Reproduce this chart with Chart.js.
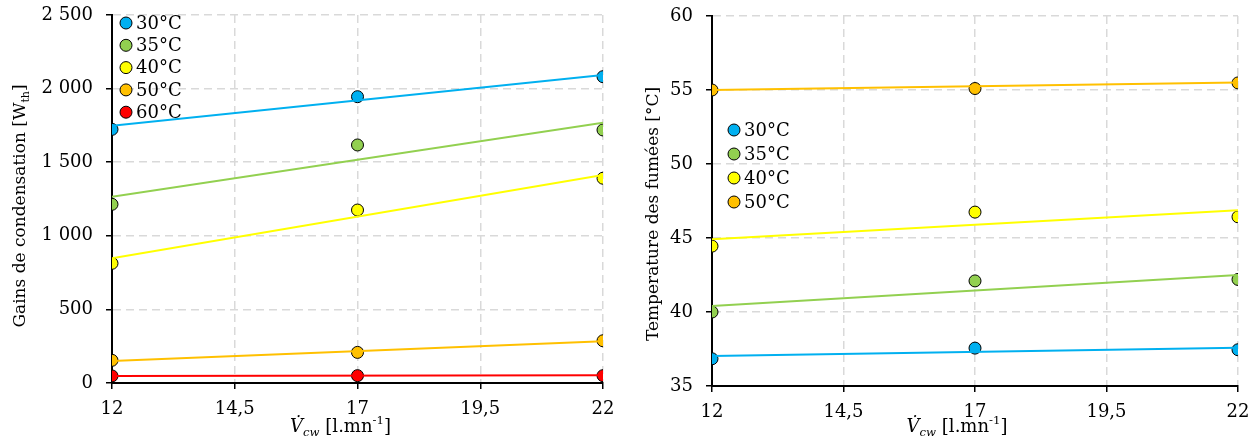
<!doctype html>
<html lang="fr">
<head>
<meta charset="utf-8">
<title>Gains de condensation / Temperature des fumées</title>
<script src="https://cdn.jsdelivr.net/npm/chart.js@4.4.0/dist/chart.umd.min.js"></script>
<style>
  body { margin: 0; background: #fff; }
  canvas { position: absolute; top: 0; }
  #left { left: 0; }
  #right { left: 630px; }
</style>
</head>
<body>
<canvas id="left" width="630" height="441"></canvas>
<canvas id="right" width="629" height="441"></canvas>

<script>
// debit d'eau froide [l/mn]
var debits = [12, 17, 22];
var trendX = [12, 22];

var labelsT = ['30°C', '35°C', '40°C', '50°C', '60°C'];
var couleurs = ['#00b0f0', '#92d050', '#ffff00', '#ffc000', '#ff0000'];

// gains de condensation [Wth]
var gains30 = [1723, 1945, 2081];
var gains35 = [1214, 1617, 1719];
var gains40 = [813, 1175, 1391];
var gains50 = [154, 208, 287];
var gains60 = [48, 50, 50];
// courbes de tendance (x = 12 et 22)
var gTrend30 = [1748, 2092];
var gTrend35 = [1266, 1768];
var gTrend40 = [847, 1413];
var gTrend50 = [150, 283];
var gTrend60 = [47, 53];

// temperature des fumees [°C]
var temp30 = [36.84, 37.56, 37.45];
var temp35 = [40.0, 42.1, 42.2];
var temp40 = [44.45, 46.75, 46.43];
var temp50 = [55.0, 55.1, 55.48];
var tTrend30 = [37.02, 37.58];
var tTrend35 = [40.4, 42.5];
var tTrend40 = [44.92, 46.88];
var tTrend50 = [55.0, 55.5];

var FONT = "'DejaVu Serif'";

function pts(xs, ys) {
  return xs.map(function (x, i) { return { x: x, y: ys[i] }; });
}

function buildDatasets(series, trends) {
  var ds = [];
  // lignes de tendance d'abord (dessous)
  trends.forEach(function (t, i) {
    ds.push({
      label: 'trend ' + labelsT[i],
      data: pts(trendX, t),
      showLine: true,
      borderColor: couleurs[i],
      borderWidth: 2,
      pointRadius: 0,
      fill: false,
      isTrend: true
    });
  });
  series.forEach(function (s, i) {
    ds.push({
      label: labelsT[i],
      data: pts(debits, s),
      showLine: false,
      backgroundColor: couleurs[i],
      borderColor: '#000',
      borderWidth: 1,
      pointRadius: 6,
      pointHoverRadius: 6
    });
  });
  return ds;
}

// dessine du texte avec indices / exposants
function runsWidth(ctx, runs, size) {
  var w = 0;
  runs.forEach(function (r) {
    var s = (r.sub || r.sup) ? size * 0.65 : size;
    ctx.font = (r.italic ? 'italic ' : '') + s + 'px ' + FONT;
    w += ctx.measureText(r.t).width;
  });
  return w;
}
function drawRuns(ctx, runs, x, y, size) {
  var w = runsWidth(ctx, runs, size);
  var cx = x - w / 2;
  ctx.fillStyle = '#000';
  ctx.textBaseline = 'alphabetic';
  ctx.textAlign = 'left';
  runs.forEach(function (r) {
    var s = (r.sub || r.sup) ? size * 0.65 : size;
    ctx.font = (r.italic ? 'italic ' : '') + s + 'px ' + FONT;
    var dy = r.sub ? size * 0.22 : (r.sup ? -size * 0.42 : 0);
    ctx.fillText(r.t, cx, y + dy);
    cx += ctx.measureText(r.t).width;
  });
}

var titresPlugin = {
  id: 'titres',
  afterDraw: function (chart, args, opts) {
    var ctx = chart.ctx;
    var a = chart.chartArea;
    ctx.save();
    var xRuns = [
      { t: 'V\u0307', italic: true },
      { t: 'cw', italic: true, sub: true },
      { t: ' [l.mn' },
      { t: '-1', sup: true },
      { t: ']' }
    ];
    drawRuns(ctx, xRuns, (a.left + a.right) / 2 + opts.xShift, opts.xBase, 18);
    ctx.restore();

    ctx.save();
    ctx.translate(opts.yX, opts.yY);
    ctx.rotate(-Math.PI / 2);
    drawRuns(ctx, opts.yRuns, 0, 6, 17);
    ctx.restore();
  }
};

var legendePlugin = {
  id: 'legende',
  afterDatasetsDraw: function (chart, args, opts) {
    var ctx = chart.ctx;
    var a = chart.chartArea;
    ctx.save();
    ctx.font = '18px ' + FONT;
    ctx.textBaseline = 'middle';
    ctx.textAlign = 'left';
    var n = 0;
    chart.data.datasets.forEach(function (d) {
      if (d.isTrend) return;
      var px = a.left + opts.dx;
      var py = a.top + opts.dy + n * opts.gap;
      ctx.beginPath();
      ctx.arc(px, py, 6, 0, Math.PI * 2);
      ctx.fillStyle = d.backgroundColor;
      ctx.fill();
      ctx.lineWidth = 1;
      ctx.strokeStyle = '#000';
      ctx.stroke();
      ctx.fillStyle = '#000';
      ctx.fillText(d.label, px + 10, py + 1);
      n++;
    });
    ctx.restore();
  }
};

function sepMilliers(v) {
  return String(v).replace(/\B(?=(\d{3})+(?!\d))/g, ' ');
}

function makeOptions(cfg) {
  var gridCommon = {
    color: '#d9d9d9',
    lineWidth: 1.5,
    tickLength: 6,
    tickColor: '#000',
    tickWidth: 1.5,
    tickBorderDash: []
  };
  var borderCommon = { color: '#000', width: 2, dash: [8, 5] };
  return {
    responsive: false,
    animation: false,
    devicePixelRatio: 1,
    layout: { padding: { top: cfg.top, right: cfg.right, left: 0, bottom: 0 } },
    plugins: {
      legend: { display: false },
      tooltip: { enabled: false },
      titres: cfg.titres,
      legende: cfg.legende
    },
    scales: {
      x: {
        type: 'linear',
        min: 12, max: 22,
        grid: gridCommon,
        border: borderCommon,
        afterFit: function (s) {
          s.height = cfg.xH;
          s.paddingLeft = 0; s.paddingRight = 0;
        },
        afterBuildTicks: function (s) {
          s.ticks = [12, 14.5, 17, 19.5, 22].map(function (v) { return { value: v }; });
        },
        ticks: {
          padding: 10,
          color: '#000',
          font: { family: 'DejaVu Serif', size: 18 },
          maxRotation: 0,
          callback: function (v) { return String(v).replace('.', ','); }
        }
      },
      y: {
        min: cfg.yMin, max: cfg.yMax,
        grid: gridCommon,
        border: borderCommon,
        afterFit: function (s) {
          s.width = cfg.yW;
          s.paddingTop = 0; s.paddingBottom = 0;
        },
        ticks: {
          stepSize: cfg.step,
          padding: 13,
          color: '#000',
          font: { family: 'DejaVu Serif', size: 18 },
          callback: function (v) { return sepMilliers(v); }
        }
      }
    }
  };
}

new Chart(document.getElementById('left').getContext('2d'), {
  type: 'scatter',
  data: {
    datasets: buildDatasets(
      [gains30, gains35, gains40, gains50, gains60],
      [gTrend30, gTrend35, gTrend40, gTrend50, gTrend60]
    )
  },
  options: makeOptions({
    top: 15, right: 27, xH: 58, yW: 112,
    yMin: 0, yMax: 2500, step: 500,
    titres: {
      xShift: -17, xBase: 432, yX: 19, yY: 206,
      yRuns: [{ t: 'Gains de condensation [W' }, { t: 'th', sub: true }, { t: ']' }]
    },
    legende: { dx: 14, dy: 8, gap: 22.3 }
  }),
  plugins: [titresPlugin, legendePlugin]
});

new Chart(document.getElementById('right').getContext('2d'), {
  type: 'scatter',
  data: {
    datasets: buildDatasets(
      [temp30, temp35, temp40, temp50],
      [tTrend30, tTrend35, tTrend40, tTrend50]
    )
  },
  options: makeOptions({
    top: 16, right: 21, xH: 55, yW: 82,
    yMin: 35, yMax: 60, step: 5,
    titres: {
      xShift: -18, xBase: 432, yX: 22, yY: 214,
      yRuns: [{ t: 'Temperature des fumées [°C]' }]
    },
    legende: { dx: 22, dy: 114, gap: 24 }
  }),
  plugins: [titresPlugin, legendePlugin]
});
</script>
</body>
</html>
